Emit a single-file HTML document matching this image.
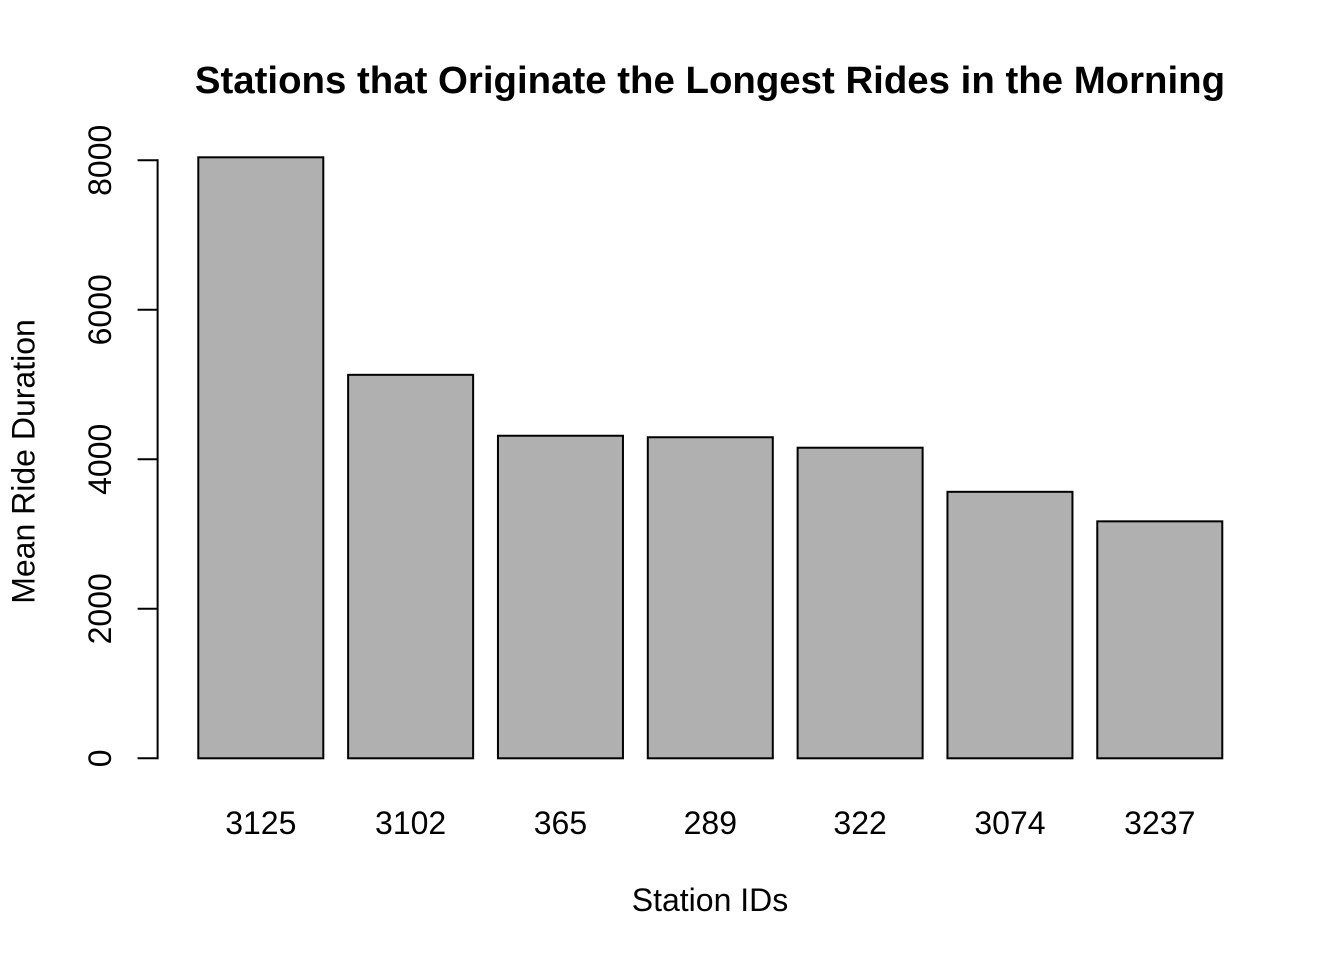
<!DOCTYPE html>
<html>
<head>
<meta charset="utf-8">
<title>Stations that Originate the Longest Rides in the Morning</title>
<style>
html,body{margin:0;padding:0;background:#fff;}
svg{display:block;}
text{font-family:"Liberation Sans",Arial,sans-serif;fill:#000;}
</style>
</head>
<body>
<svg id="chart" width="1344" height="960" viewBox="0 0 1344 960" xmlns="http://www.w3.org/2000/svg">
  <rect x="0" y="0" width="1344" height="960" fill="#ffffff"/>
  <text x="710" y="93" font-size="38.4" font-weight="bold" text-anchor="middle">Stations that Originate the Longest Rides in the Morning</text>
  <text x="710" y="911" font-size="32" text-anchor="middle">Station IDs</text>
  <text x="0" y="0" font-size="32" text-anchor="middle" transform="translate(34.5,461.5) rotate(-90)">Mean Ride Duration</text>
  <g id="bars"></g>
  <g id="x-labels"></g>
  <g id="y-axis"></g>
</svg>
<script>
const categories = ["3125", "3102", "365", "289", "322", "3074", "3237"];
const meanDurations = [8040, 5130, 4315, 4295, 4155, 3565, 3170];
const yTicks = [0, 2000, 4000, 6000, 8000];

const NS = 'http://www.w3.org/2000/svg';
function yScale(v) { return 758.3 - v * (598 / 8000); }
function xCenter(i) { return 260.8 + i * 149.83; }
const barWidth = 125;

const barsGroup = document.getElementById('bars');
const labelsGroup = document.getElementById('x-labels');
const axisGroup = document.getElementById('y-axis');

categories.forEach(function (cat, i) {
  const top = yScale(meanDurations[i]);
  const bar = document.createElementNS(NS, 'rect');
  
  
  bar.setAttribute('x', xCenter(i) - barWidth / 2);
  bar.setAttribute('y', top);
  bar.setAttribute('width', barWidth);
  bar.setAttribute('height', yScale(0) - top);
  bar.setAttribute('fill', '#b0b0b0');
  bar.setAttribute('stroke', '#000');
  bar.setAttribute('stroke-width', '2');
  barsGroup.appendChild(bar);

  const label = document.createElementNS(NS, 'text');
  
  
  label.setAttribute('x', xCenter(i));
  label.setAttribute('y', 834);
  label.setAttribute('font-size', '32');
  label.setAttribute('text-anchor', 'middle');
  label.textContent = cat;
  labelsGroup.appendChild(label);
});

const axisLine = document.createElementNS(NS, 'line');


axisLine.setAttribute('x1', 157.6);
axisLine.setAttribute('x2', 157.6);
axisLine.setAttribute('y1', yScale(yTicks[0]));
axisLine.setAttribute('y2', yScale(yTicks[yTicks.length - 1]));
axisLine.setAttribute('stroke', '#000');
axisLine.setAttribute('stroke-width', '2');
axisLine.setAttribute('stroke-linecap', 'square');
axisGroup.appendChild(axisLine);

yTicks.forEach(function (t) {
  const y = yScale(t);
  const tick = document.createElementNS(NS, 'line');
  
  
  tick.setAttribute('x1', 137.6);
  tick.setAttribute('x2', 157.6);
  tick.setAttribute('y1', y);
  tick.setAttribute('y2', y);
  tick.setAttribute('stroke', '#000');
  tick.setAttribute('stroke-width', '2');
  axisGroup.appendChild(tick);

  const label = document.createElementNS(NS, 'text');
  
  
  label.setAttribute('font-size', '32');
  label.setAttribute('text-anchor', 'middle');
  label.setAttribute('transform', 'translate(111,' + y + ') rotate(-90)');
  label.textContent = String(t);
  axisGroup.appendChild(label);
});
</script>
</body>
</html>
